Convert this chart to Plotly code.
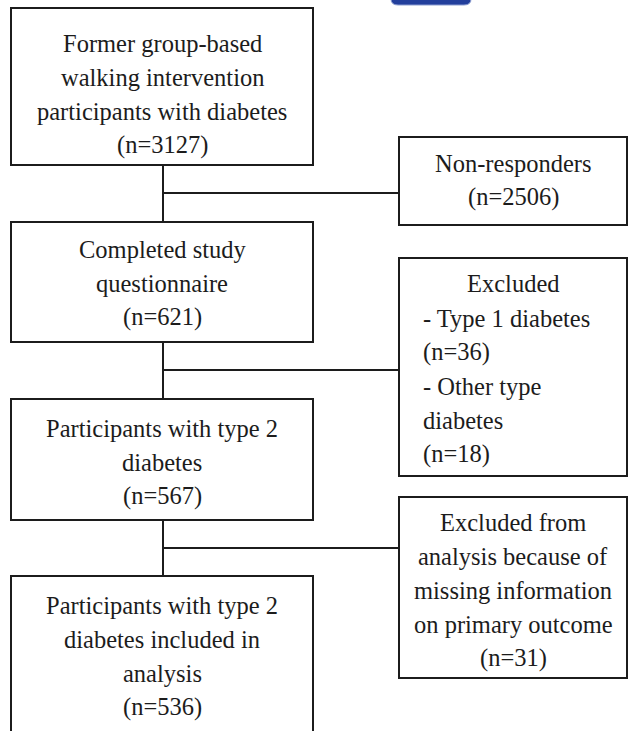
import plotly.graph_objects as go

# ---- data ----
box_titles = [
    ["Former group-based", "walking intervention", "participants with diabetes"],
    ["Completed study", "questionnaire"],
    ["Participants with type 2", "diabetes"],
    ["Participants with type 2", "diabetes included in", "analysis"],
]
box_counts = [3127, 621, 567, 536]

side_titles = [
    ["Non-responders"],
    ["Excluded"],
    ["Excluded from", "analysis because of", "missing information", "on primary outcome"],
]
side_counts = [2506, None, 31]
excluded_items = [["- Type 1 diabetes"], ["- Other type", "diabetes"]]
excluded_counts = [36, 18]

# ---- layout geometry (page pixels) ----
W, H = 640, 731
main_x = (11, 313)
main_y = [(8, 165), (222, 342), (399, 520), (576, 745)]
main_first_line = [43, 249, 428, 605]
side_x = (399, 627)
side_y = [(137, 225), (258, 476), (497, 678)]
side_first_line = [163, 283, 522]
excl_list_x = 421
excl_list_first = 318
conn_y = [193, 370, 548]
spine_x = 163
LH = 34  # line spacing

INK = "#1c1c1c"
LINE = dict(color=INK, width=2)
FONT = dict(family="Liberation Serif", size=24.5, color=INK)

fig = go.Figure()
shapes = []
annotations = []


def add_lines(lines, x, y0, xanchor="center"):
    for i, t in enumerate(lines):
        annotations.append(dict(x=x, y=y0 + i * LH, xref="x", yref="y", text=t,
                                showarrow=False, font=FONT, xanchor=xanchor,
                                yanchor="middle"))


mcx = (main_x[0] + main_x[1]) / 2
for (y0, y1), title, n, ty in zip(main_y, box_titles, box_counts, main_first_line):
    shapes.append(dict(type="rect", x0=main_x[0], x1=main_x[1], y0=y0, y1=y1,
                       xref="x", yref="y", line=LINE, fillcolor="white"))
    add_lines(title + [f"(n={n})"], mcx, ty)

scx = (side_x[0] + side_x[1]) / 2
for (y0, y1) in side_y:
    shapes.append(dict(type="rect", x0=side_x[0], x1=side_x[1], y0=y0, y1=y1,
                       xref="x", yref="y", line=LINE, fillcolor="white"))

for title, n, ty in zip(side_titles, side_counts, side_first_line):
    lines = title + ([f"(n={n})"] if n is not None else [])
    add_lines(lines, scx, ty)

ex_lines = []
for it, c in zip(excluded_items, excluded_counts):
    ex_lines += it + [f"(n={c})"]
add_lines(ex_lines, excl_list_x, excl_list_first, xanchor="left")

# connectors
for i, cy in enumerate(conn_y):
    shapes.append(dict(type="line", x0=spine_x, x1=spine_x, y0=main_y[i][1], y1=main_y[i + 1][0],
                       xref="x", yref="y", line=LINE))
    shapes.append(dict(type="line", x0=spine_x, x1=side_x[0], y0=cy, y1=cy,
                       xref="x", yref="y", line=LINE))

# cut-off "Open Access" badge at the top
shapes.append(dict(type="path", xref="x", yref="y",
                   path="M 398 -6 L 464 -6 Q 471 -6 471 -1 Q 471 5 464 5 L 398 5 Q 391 5 391 -1 Q 391 -6 398 -6 Z",
                   fillcolor="#233f9c", line=dict(color="#8a9bd0", width=1)))

fig.update_layout(
    width=W, height=H,
    margin=dict(l=0, r=0, t=0, b=0),
    paper_bgcolor="white", plot_bgcolor="white",
    xaxis=dict(range=[0, W], visible=False, fixedrange=True),
    yaxis=dict(range=[H, 0], visible=False, fixedrange=True),
    shapes=shapes, annotations=annotations, showlegend=False,
)
fig.write_html("out.html", config={"displayModeBar": False},
               post_script="document.body.style.margin='0';")
